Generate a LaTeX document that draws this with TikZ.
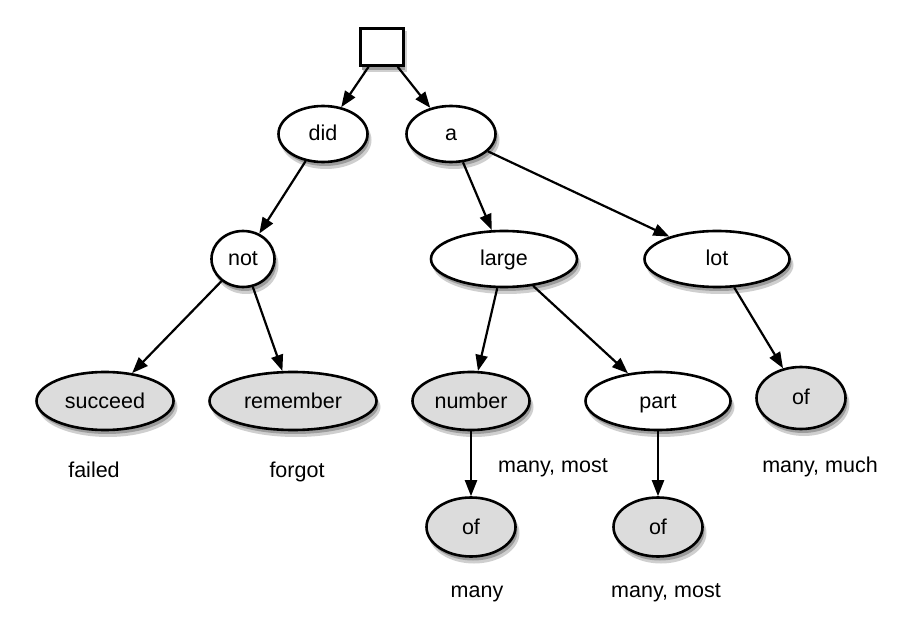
\documentclass[tikz,border=0pt]{standalone}
\usepackage{fontspec}
\setsansfont{Liberation Sans}
\usetikzlibrary{positioning, shapes.geometric, arrows.meta}
\definecolor{leafgray}{HTML}{DCDCDC}
\definecolor{shadowgray}{HTML}{9C9C9C}
\definecolor{shadowsoft}{HTML}{CFCFCF}

\begin{document}
\begin{tikzpicture}[x=1pt, y=-1pt, font=\sffamily\fontsize{21.5}{26}\selectfont,
  word/.style={ellipse, draw=black, line width=2.6pt, fill=white, inner sep=0pt,
               text height=16pt, text depth=2pt, minimum height=56pt},
  leaf/.style={word, fill=leafgray},
  edge/.style={-{Triangle[length=16pt, width=12pt]}, line width=2.2pt},
  gloss/.style={anchor=base}]
  \fill[white] (0,0) rectangle (900,620);

  % shadows first, then the nodes on top
  \foreach \cx/\cy/\w/\h in {323/134/89/56, 451/134/89/56, 243/259/63/56, 504/259/146/56,
      717/259/145/56, 105/401/137/58, 293/401/167/58, 471/401/117/58, 658/401/145/58,
      801/398/89/62, 471/527/89/59, 658/527/89/59} {
    \fill[shadowsoft] (\cx+3,\cy+6) ellipse ({\w/2+1} and {\h/2+1});
    \fill[shadowgray] (\cx+2,\cy+4) ellipse ({\w/2} and {\h/2});
  }
  \fill[shadowsoft] (363,31) rectangle (407,72);
  \fill[shadowgray] (362,30) rectangle (405,70);

  \node[rectangle, draw=black, line width=2.6pt, fill=white, minimum width=43pt, minimum height=37pt] (root) at (382,47) {};
  \node[word, minimum width=89pt] (did) at (323,134) {did};
  \node[word, minimum width=89pt] (a) at (451,134) {a};
  \node[word, minimum width=63pt] (not) at (243,259) {not};
  \node[word, minimum width=146pt] (large) at (504,259) {large};
  \node[word, minimum width=145pt] (lot) at (717,259) {lot};

  \node[leaf, minimum width=137pt, minimum height=58pt] (succeed) at (105,401) {succeed};
  \node[leaf, minimum width=167pt, minimum height=58pt] (remember) at (293,401) {remember};
  \node[leaf, minimum width=117pt, minimum height=58pt] (number) at (471,401) {number};
  \node[word, minimum width=145pt, minimum height=58pt] (part) at (658,401) {part};
  \node[leaf, minimum width=89pt, minimum height=62pt] (oflot) at (801,398) {of};
  \node[leaf, minimum width=89pt, minimum height=59pt] (ofnumber) at (471,527) {of};
  \node[leaf, minimum width=89pt, minimum height=59pt] (ofpart) at (658,527) {of};

  % glosses
  \node[gloss] (failed) at (94,477) {failed};
  \node[gloss] (forgot) at (297,477) {forgot};
  \node[gloss] (manymost) at (553,472) {many, most};
  \node[gloss] (manymuch) at (820,472) {many, much};
  \node[gloss] (many) at (477,597) {many};
  \node[gloss] (manymostb) at (666,597) {many, most};

  \draw[edge] (root) -- (did);
  \draw[edge] (root) -- (a);
  \draw[edge] (did) -- (not);
  \draw[edge] (a) -- (large);
  \draw[edge] (a) -- (lot);
  \draw[edge] (not) -- (succeed);
  \draw[edge] (not) -- (remember);
  \draw[edge] (large) -- (number);
  \draw[edge] (large) -- (part);
  \draw[edge] (lot) -- (oflot);
  \draw[edge] (number) -- (ofnumber);
  \draw[edge] (part) -- (ofpart);
\end{tikzpicture}
\end{document}
